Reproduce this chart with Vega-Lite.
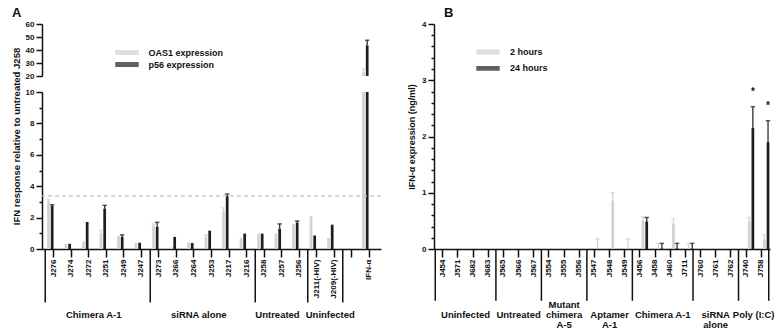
{
  "$schema": "https://vega.github.io/schema/vega-lite/v6.json",
  "padding": {"left": 11, "top": 7, "right": 4, "bottom": 4},
  "background": "white",
  "config": {
    "font": "Liberation Sans",
    "view": {"stroke": null},
    "axis": {"labelFontSize": 8, "labelFontWeight": "bold", "labelColor": "#111", "titleFontSize": 9, "titleFontWeight": "bold", "titleColor": "#111", "domainColor": "#111", "domainWidth": 1.5, "ticks": true, "tickColor": "#111", "tickWidth": 1.5, "grid": false, "labelPadding": 2, "labelOverlap": false},
    "legend": {"labelFontSize": 9, "labelFontWeight": "bold", "labelColor": "#111", "padding": 0},
    "title": {"fontSize": 13, "fontWeight": "bold", "color": "#111", "anchor": "start"}
  },
  "datasets": {
    "a": [
      {"cat": "J276", "series": "OAS1 expression", "value": 3.05, "err": 3.15},
      {"cat": "J276", "series": "p56 expression", "value": 2.75, "err": 2.82},
      {"cat": "J274", "series": "OAS1 expression", "value": 0.32},
      {"cat": "J274", "series": "p56 expression", "value": 0.33},
      {"cat": "J272", "series": "OAS1 expression", "value": 0.48},
      {"cat": "J272", "series": "p56 expression", "value": 1.72},
      {"cat": "J251", "series": "OAS1 expression", "value": 1.0, "err": 1.2},
      {"cat": "J251", "series": "p56 expression", "value": 2.57, "err": 2.78},
      {"cat": "J249", "series": "OAS1 expression", "value": 0.83},
      {"cat": "J249", "series": "p56 expression", "value": 0.78, "err": 0.9},
      {"cat": "J247", "series": "OAS1 expression", "value": 0.38},
      {"cat": "J247", "series": "p56 expression", "value": 0.4},
      {"cat": "J273", "series": "OAS1 expression", "value": 1.5, "err": 1.6},
      {"cat": "J273", "series": "p56 expression", "value": 1.42, "err": 1.7},
      {"cat": "J266", "series": "OAS1 expression", "value": 0.1},
      {"cat": "J266", "series": "p56 expression", "value": 0.77},
      {"cat": "J264", "series": "OAS1 expression", "value": 0.4},
      {"cat": "J264", "series": "p56 expression", "value": 0.38},
      {"cat": "J253", "series": "OAS1 expression", "value": 0.78, "err": 0.9},
      {"cat": "J253", "series": "p56 expression", "value": 1.17},
      {"cat": "J217", "series": "OAS1 expression", "value": 2.4, "err": 2.62},
      {"cat": "J217", "series": "p56 expression", "value": 3.38, "err": 3.5},
      {"cat": "J216", "series": "OAS1 expression", "value": 0.7},
      {"cat": "J216", "series": "p56 expression", "value": 0.98},
      {"cat": "J258", "series": "OAS1 expression", "value": 0.98},
      {"cat": "J258", "series": "p56 expression", "value": 0.98},
      {"cat": "J257", "series": "OAS1 expression", "value": 0.98},
      {"cat": "J257", "series": "p56 expression", "value": 1.3, "err": 1.6},
      {"cat": "J256", "series": "OAS1 expression", "value": 1.6},
      {"cat": "J256", "series": "p56 expression", "value": 1.68, "err": 1.78},
      {"cat": "J211(-HIV)", "series": "OAS1 expression", "value": 2.08},
      {"cat": "J211(-HIV)", "series": "p56 expression", "value": 0.86},
      {"cat": "J209(-HIV)", "series": "OAS1 expression", "value": 0.7},
      {"cat": "J209(-HIV)", "series": "p56 expression", "value": 1.55},
      {"cat": "IFN-α", "series": "OAS1 expression", "value": 23, "err": 25.4},
      {"cat": "IFN-α", "series": "p56 expression", "value": 43.6, "err": 47.5}
    ],
    "b": [
      {"cat": "J547", "series": "2 hours", "value": 0.01, "err": 0.18},
      {"cat": "J548", "series": "2 hours", "value": 0.86, "err": 1.0},
      {"cat": "J549", "series": "2 hours", "value": 0.01, "err": 0.18},
      {"cat": "J456", "series": "2 hours", "value": 0.5, "err": 0.57},
      {"cat": "J456", "series": "24 hours", "value": 0.49, "err": 0.56},
      {"cat": "J458", "series": "2 hours", "value": 0.01, "err": 0.1},
      {"cat": "J458", "series": "24 hours", "value": 0.01, "err": 0.1},
      {"cat": "J460", "series": "2 hours", "value": 0.45, "err": 0.53},
      {"cat": "J460", "series": "24 hours", "value": 0.01, "err": 0.1},
      {"cat": "J711", "series": "2 hours", "value": 0.01, "err": 0.1},
      {"cat": "J711", "series": "24 hours", "value": 0.01, "err": 0.1},
      {"cat": "J740", "series": "2 hours", "value": 0.49, "err": 0.56},
      {"cat": "J740", "series": "24 hours", "value": 2.15, "err": 2.53, "sig": "*"},
      {"cat": "J758", "series": "2 hours", "value": 0.17, "err": 0.25},
      {"cat": "J758", "series": "24 hours", "value": 1.9, "err": 2.28, "sig": "*"}
    ]
  },
  "hconcat": [
    {
      "title": {"text": "A", "frame": "bounds", "dx": 1, "offset": 0},
      "bounds": "flush",
      "spacing": 16,
      "resolve": {"scale": {"x": "independent", "y": "independent"}, "legend": {"color": "independent"}},
      "vconcat": [
        {
          "width": 339,
          "height": 52,
          "data": {"name": "a"},
          "encoding": {
            "x": {"field": "cat", "type": "nominal", "title": null, "scale": {"domain": ["J276","J274","J272","J251","J249","J247","J273","J266","J264","J253","J217","J216","J258","J257","J256","J211(-HIV)","J209(-HIV)"," ","IFN-α"], "paddingInner": 0.22, "paddingOuter": 0.295}, "axis": null},
            "xOffset": {"field": "series", "type": "nominal", "scale": {"domain": ["OAS1 expression", "p56 expression"], "paddingInner": 0.25}},
            "color": {"field": "series", "type": "nominal", "scale": {"domain": ["OAS1 expression", "p56 expression"], "range": ["#d2d2d2", "#1e1e1e"]}, "legend": {"title": null, "orient": "none", "legendX": 78.5, "legendY": 22, "symbolType": "M-2,-0.3H2V0.3H-2Z", "symbolSize": 121, "labelOffset": 15, "rowPadding": 0}}
          },
          "layer": [
            {"mark": {"type": "bar", "clip": true}, "encoding": {"y": {"field": "value", "type": "quantitative", "scale": {"domain": [20, 60], "nice": false}, "axis": {"values": [20, 30, 40, 50, 60], "tickCount": 100, "labelExpr": "format(datum.value, 'd')", "title": null, "tickSize": 6, "labelOverlap": false}}}},
            {"transform": [{"filter": "isValid(datum.err)"}], "mark": {"type": "rule", "clip": true, "strokeWidth": 1.2}, "encoding": {"y": {"field": "value", "type": "quantitative"}, "y2": {"field": "err"}}},
            {"transform": [{"filter": "isValid(datum.err)"}], "mark": {"type": "tick", "clip": true, "orient": "horizontal", "size": 4.5, "thickness": 1.5}, "encoding": {"y": {"field": "err", "type": "quantitative"}}}
          ]
        },
        {
          "width": 339,
          "height": 157,
          "layer": [
            {"data": {"name": "a"}, "mark": {"type": "bar", "clip": true}, "encoding": {
              "x": {"field": "cat", "type": "nominal", "title": null, "scale": {"domain": ["J276","J274","J272","J251","J249","J247","J273","J266","J264","J253","J217","J216","J258","J257","J256","J211(-HIV)","J209(-HIV)"," ","IFN-α"], "paddingInner": 0.22, "paddingOuter": 0.295}, "axis": {"title": null, "labelAngle": -90, "tickSize": 8, "labelPadding": 2}},
              "xOffset": {"field": "series", "type": "nominal", "scale": {"domain": ["OAS1 expression", "p56 expression"], "paddingInner": 0.25}},
              "y": {"field": "value", "type": "quantitative", "scale": {"domain": [0, 10], "nice": false}, "axis": {"values": [0,1,2,3,4,5,6,7,8,9,10], "tickCount": 100, "labelOverlap": false, "labelExpr": "datum.value % 2 === 0 ? format(datum.value, 'd') : ''", "tickSize": {"condition": {"test": "datum.value % 2 === 0", "value": 6}, "value": 3}, "title": "IFN response relative to untreated J258", "titleFontSize": 9.5, "titleY": 44, "titlePadding": 4}},
              "color": {"field": "series", "type": "nominal", "scale": {"domain": ["OAS1 expression", "p56 expression"], "range": ["#d2d2d2", "#1e1e1e"]}, "legend": null}}},
            {"data": {"name": "a"}, "transform": [{"filter": "isValid(datum.err)"}], "mark": {"type": "rule", "clip": true, "strokeWidth": 1.2}, "encoding": {
              "x": {"field": "cat", "type": "nominal", "title": null},
              "xOffset": {"field": "series", "type": "nominal", "scale": {"domain": ["OAS1 expression", "p56 expression"], "paddingInner": 0.25}},
              "y": {"field": "value", "type": "quantitative"}, "y2": {"field": "err"},
              "color": {"field": "series", "type": "nominal", "legend": null}}},
            {"data": {"name": "a"}, "transform": [{"filter": "isValid(datum.err)"}], "mark": {"type": "tick", "clip": true, "orient": "horizontal", "size": 4.5, "thickness": 1.5}, "encoding": {
              "x": {"field": "cat", "type": "nominal", "title": null},
              "xOffset": {"field": "series", "type": "nominal", "scale": {"domain": ["OAS1 expression", "p56 expression"], "paddingInner": 0.25}},
              "y": {"field": "err", "type": "quantitative"},
              "color": {"field": "series", "type": "nominal", "legend": null}}},
            {"data": {"values": [{}]}, "mark": {"type": "rule", "strokeDash": [4, 3], "color": "#c4c4c4", "strokeWidth": 1.2}, "encoding": {"y": {"datum": 3.38}}},
            {"data": {"values": [{"cat": "J276"}, {"cat": "J273"}, {"cat": "J258"}, {"cat": "J211(-HIV)"}, {"cat": " "}]}, "mark": {"type": "rule", "strokeWidth": 1.5, "color": "#111"}, "encoding": {"x": {"field": "cat", "type": "nominal", "title": null, "bandPosition": -0.141}, "y": {"datum": 0}, "y2": {"datum": -3.4}}},
            {"data": {"values": [{"cat": "J251", "label": "Chimera A-1"}, {"cat": "J253", "label": "siRNA alone"}]}, "mark": {"type": "text", "fontSize": 9.5, "fontWeight": "bold", "baseline": "top", "color": "#111", "dx": -4}, "encoding": {"x": {"field": "cat", "type": "nominal", "title": null, "bandPosition": -0.141}, "y": {"datum": -3.89}, "text": {"field": "label"}}},
            {"data": {"values": [{"cat": "J209(-HIV)", "label": "Uninfected"}]}, "mark": {"type": "text", "fontSize": 9.5, "fontWeight": "bold", "baseline": "top", "color": "#111", "dx": 5}, "encoding": {"x": {"field": "cat", "type": "nominal", "title": null, "bandPosition": -0.141}, "y": {"datum": -3.89}, "text": {"field": "label"}}},
            {"data": {"values": [{"cat": "J257", "label": "Untreated"}]}, "mark": {"type": "text", "fontSize": 9.5, "fontWeight": "bold", "baseline": "top", "color": "#111", "dx": -4}, "encoding": {"x": {"field": "cat", "type": "nominal", "title": null, "bandPosition": 0.5}, "y": {"datum": -3.89}, "text": {"field": "label"}}}
          ]
        }
      ]
    },
    {
      "title": {"text": "B", "frame": "group", "dx": 10, "offset": 0},
      "width": 336,
      "height": 225,
      "layer": [
        {"data": {"name": "b"}, "mark": {"type": "bar"}, "encoding": {
          "x": {"field": "cat", "type": "nominal", "title": null, "scale": {"domain": ["J454","J571","J682","J683","J565","J566","J567","J554","J555","J556","J547","J548","J549","J456","J458","J460","J711","J760","J761","J762","J740","J758"], "paddingInner": 0.28, "paddingOuter": 0.22}, "axis": {"title": null, "labelAngle": -90, "tickSize": 8, "labelPadding": 2}},
          "xOffset": {"field": "series", "type": "nominal", "scale": {"domain": ["2 hours", "24 hours"], "paddingInner": 0.2}},
          "y": {"field": "value", "type": "quantitative", "scale": {"domain": [0, 4], "nice": false}, "axis": {"values": [0,0.2,0.4,0.6,0.8,1,1.2,1.4,1.6,1.8,2,2.2,2.4,2.6,2.8,3,3.2,3.4,3.6,3.8,4], "tickCount": 100, "labelOverlap": false, "labelExpr": "datum.value % 1 === 0 ? format(datum.value, 'd') : ''", "tickSize": {"condition": {"test": "datum.value % 1 === 0", "value": 6}, "value": 3}, "title": "IFN-α expression (ng/ml)", "titlePadding": 5}},
          "color": {"field": "series", "type": "nominal", "scale": {"domain": ["2 hours", "24 hours"], "range": ["#d2d2d2", "#1e1e1e"]}, "legend": {"title": null, "orient": "none", "legendX": 47.5, "legendY": 21.5, "symbolType": "M-2,-0.3H2V0.3H-2Z", "symbolSize": 121, "labelOffset": 15.5, "rowPadding": 4.4}}}},
        {"data": {"name": "b"}, "transform": [{"filter": "isValid(datum.err)"}], "mark": {"type": "rule", "strokeWidth": 1.2}, "encoding": {
          "x": {"field": "cat", "type": "nominal", "title": null},
          "xOffset": {"field": "series", "type": "nominal", "scale": {"domain": ["2 hours", "24 hours"], "paddingInner": 0.2}},
          "y": {"field": "value", "type": "quantitative"}, "y2": {"field": "err"},
          "color": {"field": "series", "type": "nominal"}}},
        {"data": {"name": "b"}, "transform": [{"filter": "isValid(datum.err)"}], "mark": {"type": "tick", "orient": "horizontal", "size": 4.5, "thickness": 1.5}, "encoding": {
          "x": {"field": "cat", "type": "nominal", "title": null},
          "xOffset": {"field": "series", "type": "nominal", "scale": {"domain": ["2 hours", "24 hours"], "paddingInner": 0.2}},
          "y": {"field": "err", "type": "quantitative"},
          "color": {"field": "series", "type": "nominal"}}},
        {"data": {"name": "b"}, "transform": [{"filter": "isValid(datum.sig)"}], "mark": {"type": "text", "fontSize": 10, "fontWeight": "bold", "baseline": "middle", "dy": -15, "color": "#111"}, "encoding": {
          "x": {"field": "cat", "type": "nominal", "title": null},
          "xOffset": {"field": "series", "type": "nominal", "scale": {"domain": ["2 hours", "24 hours"], "paddingInner": 0.2}},
          "y": {"field": "err", "type": "quantitative"},
          "text": {"field": "sig"}}},
        {"data": {"values": [{"cat": "J454"}, {"cat": "J565"}, {"cat": "J554"}, {"cat": "J547"}, {"cat": "J456"}, {"cat": "J760"}, {"cat": "J740"}]}, "mark": {"type": "rule", "strokeWidth": 1.5, "color": "#111"}, "encoding": {"x": {"field": "cat", "type": "nominal", "title": null, "bandPosition": -0.19}, "y": {"datum": 0}, "y2": {"datum": -0.92}}},
        {"data": {"values": [{"cat": "J758"}]}, "mark": {"type": "rule", "strokeWidth": 1.5, "color": "#111"}, "encoding": {"x": {"field": "cat", "type": "nominal", "title": null, "bandPosition": 1.19}, "y": {"datum": 0}, "y2": {"datum": -0.92}}},
        {"data": {"values": [{"cat": "J682", "label": "Uninfected"}, {"cat": "J460", "label": "Chimera A-1"}, {"cat": "J758", "label": "Poly (I:C)"}]}, "mark": {"type": "text", "fontSize": 9.5, "fontWeight": "bold", "baseline": "top", "lineBreak": "\n", "lineHeight": 10, "color": "#111"}, "encoding": {"x": {"field": "cat", "type": "nominal", "title": null, "bandPosition": -0.19}, "y": {"datum": -1.09}, "text": {"field": "label"}}},
        {"data": {"values": [{"cat": "J566", "label": "Untreated"}, {"cat": "J548", "label": "Aptamer\nA-1"}, {"cat": "J761", "label": "siRNA\nalone"}]}, "mark": {"type": "text", "fontSize": 9.5, "fontWeight": "bold", "baseline": "top", "lineBreak": "\n", "lineHeight": 10, "color": "#111"}, "encoding": {"x": {"field": "cat", "type": "nominal", "title": null, "bandPosition": 0.5}, "y": {"datum": -1.09}, "text": {"field": "label"}}},
        {"data": {"values": [{"cat": "J555", "label": "Mutant\nchimera\nA-5"}]}, "mark": {"type": "text", "fontSize": 9.5, "fontWeight": "bold", "baseline": "top", "lineBreak": "\n", "lineHeight": 10, "color": "#111"}, "encoding": {"x": {"field": "cat", "type": "nominal", "title": null, "bandPosition": 0.5}, "y": {"datum": -0.91}, "text": {"field": "label"}}}
      ]
    }
  ],
  "spacing": 25,
  "resolve": {"scale": {"color": "independent"}, "legend": {"color": "independent"}}
}
